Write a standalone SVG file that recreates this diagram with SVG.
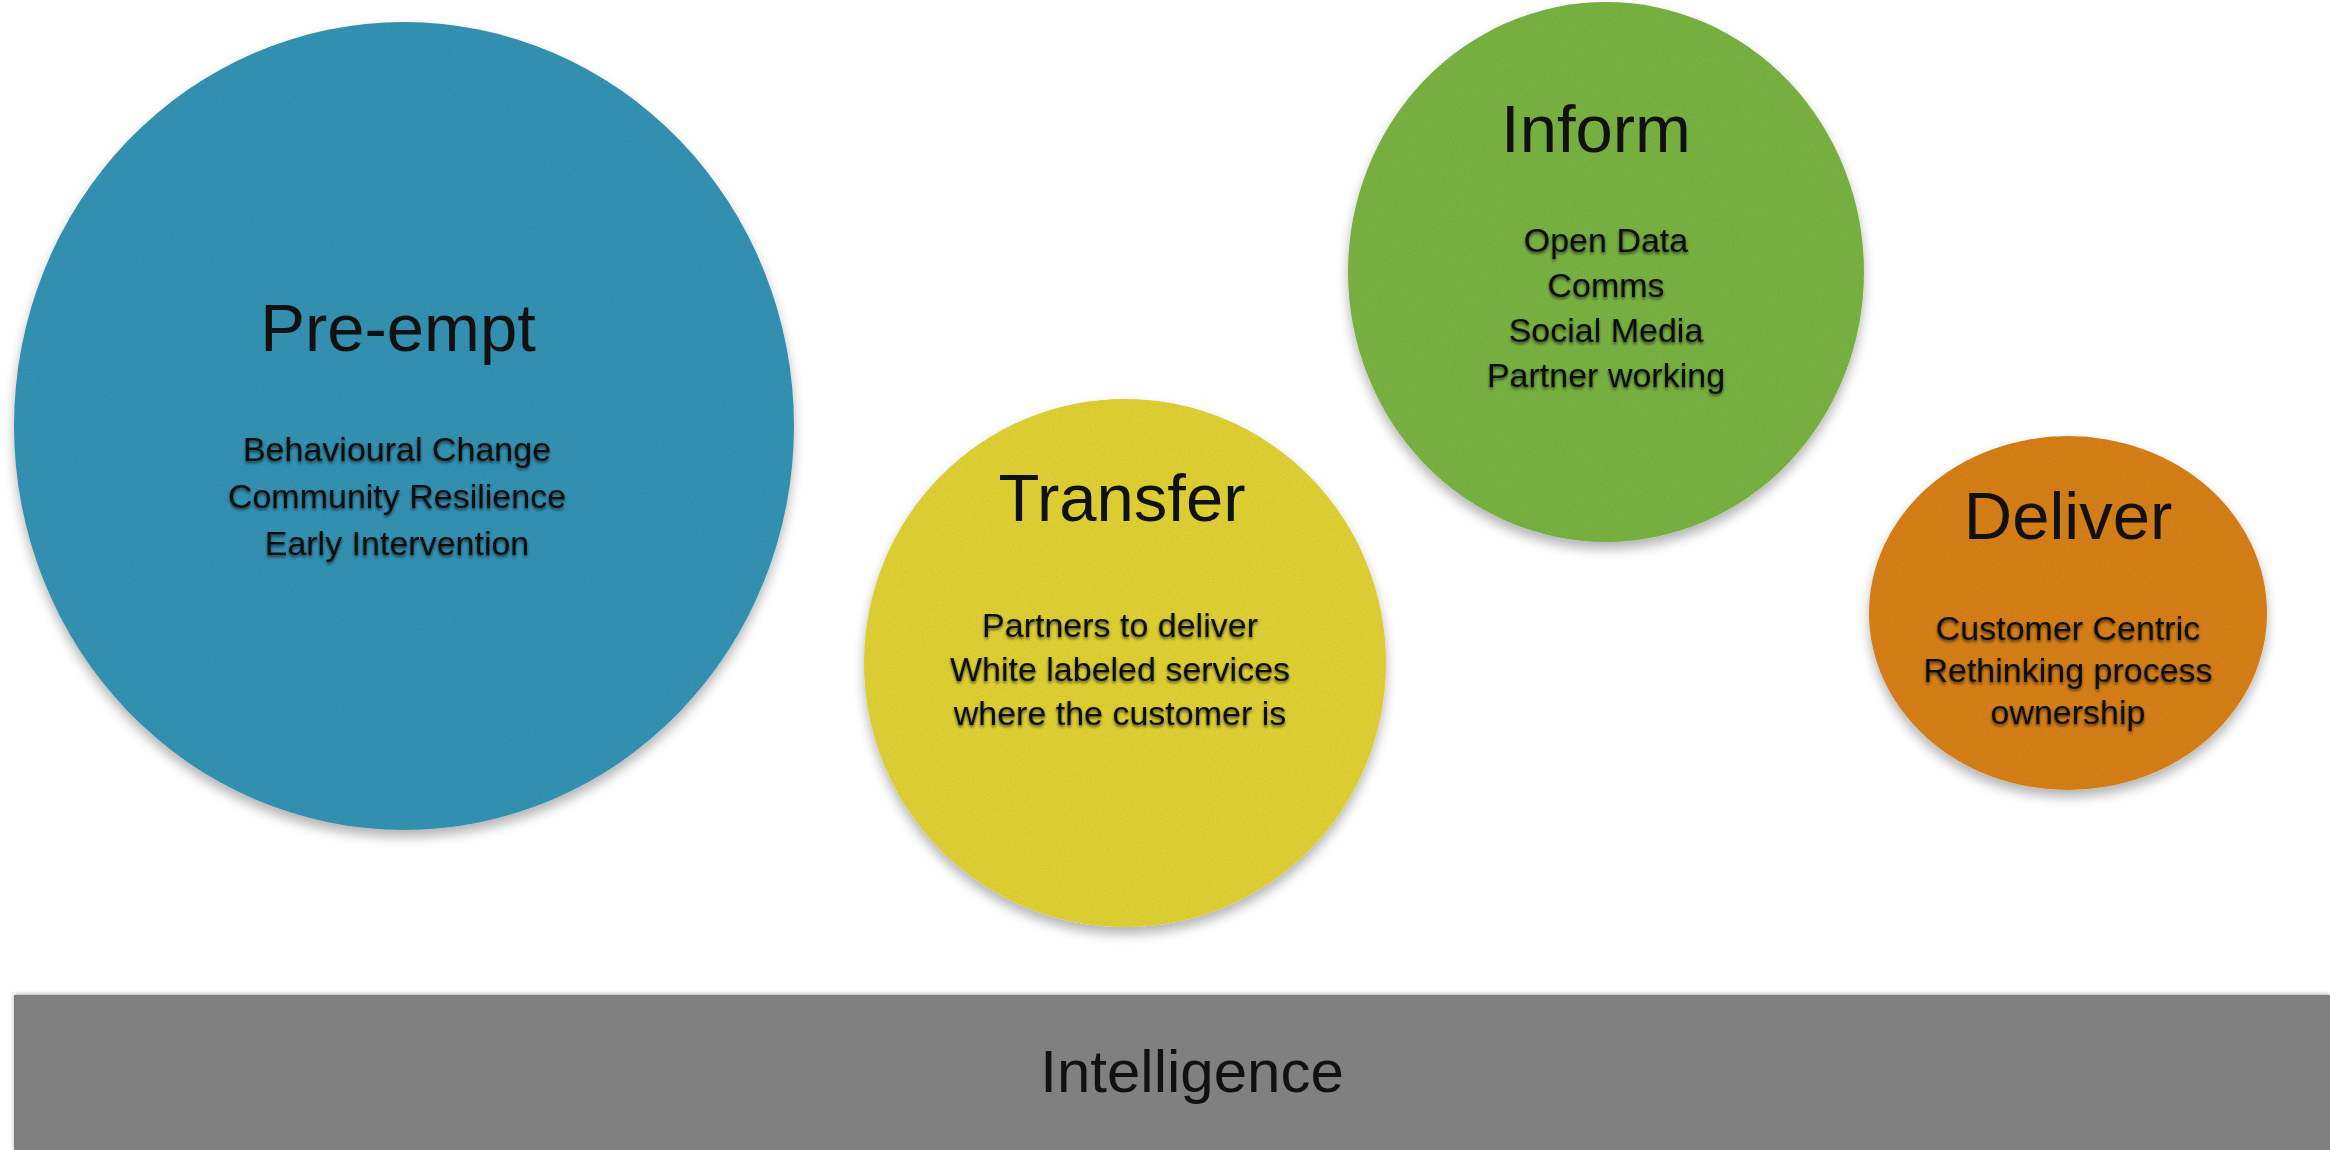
<svg xmlns="http://www.w3.org/2000/svg" width="2330" height="1150" viewBox="0 0 2330 1150">
  <defs>
    <filter id="tex" x="-10%" y="-10%" width="120%" height="125%">
      <feTurbulence type="fractalNoise" baseFrequency="0.85" numOctaves="2" seed="3" result="noise"/>
      <feColorMatrix in="noise" type="matrix" values="0 0 0 0 0  0 0 0 0 0  0 0 0 0 0  0.22 0 0 0 -0.06" result="dark"/>
      <feComposite in="dark" in2="SourceGraphic" operator="in" result="grain"/>
      <feGaussianBlur in="SourceAlpha" stdDeviation="6" result="blur"/>
      <feOffset in="blur" dy="7" result="off"/>
      <feComponentTransfer in="off" result="shadow"><feFuncA type="linear" slope="0.3"/></feComponentTransfer>
      <feMerge><feMergeNode in="shadow"/><feMergeNode in="SourceGraphic"/><feMergeNode in="grain"/></feMerge>
    </filter>
    <filter id="ts" x="-5%" y="-20%" width="110%" height="150%">
      <feGaussianBlur in="SourceAlpha" stdDeviation="1.6"/>
      <feOffset dy="2" result="o"/>
      <feComponentTransfer in="o" result="s"><feFuncA type="linear" slope="0.6"/></feComponentTransfer>
      <feMerge><feMergeNode in="s"/><feMergeNode in="SourceGraphic"/></feMerge>
    </filter>
    <filter id="barsh" x="-2%" y="-20%" width="104%" height="140%">
      <feGaussianBlur in="SourceAlpha" stdDeviation="2"/>
      <feOffset dy="-1" result="o"/>
      <feComponentTransfer in="o" result="s"><feFuncA type="linear" slope="0.3"/></feComponentTransfer>
      <feMerge><feMergeNode in="s"/><feMergeNode in="SourceGraphic"/></feMerge>
    </filter>
  </defs>
  <style>
    text { font-family: "Liberation Sans", Arial, Helvetica, sans-serif; text-anchor: middle; fill: #111; }
    .title { font-size: 67px; }
    .sub { font-size: 34px; filter: url(#ts); }
    .bub { filter: url(#tex); }
  </style>
  <rect width="2330" height="1150" fill="#ffffff"/>

  <g id="connectors"/>

  <g id="node-preempt">
    <ellipse class="bub" cx="404" cy="426" rx="390" ry="404" fill="#3693b3"/>
    <text class="title" x="398" y="351">Pre-empt</text>
    <text class="sub" x="397" y="461">Behavioural Change</text>
    <text class="sub" x="397" y="508">Community Resilience</text>
    <text class="sub" x="397" y="555">Early Intervention</text>
  </g>

  <g id="node-transfer">
    <ellipse class="bub" cx="1125" cy="663" rx="261" ry="264" fill="#e0d136"/>
    <text class="title" x="1122" y="521">Transfer</text>
    <text class="sub" x="1120" y="637">Partners to deliver</text>
    <text class="sub" x="1120" y="681">White labeled services</text>
    <text class="sub" x="1120" y="725">where the customer is</text>
  </g>

  <g id="node-inform">
    <ellipse class="bub" cx="1606" cy="272" rx="258" ry="270" fill="#79b343"/>
    <text class="title" x="1596" y="152">Inform</text>
    <text class="sub" x="1606" y="252">Open Data</text>
    <text class="sub" x="1606" y="297">Comms</text>
    <text class="sub" x="1606" y="342">Social Media</text>
    <text class="sub" x="1606" y="387">Partner working</text>
  </g>

  <g id="node-deliver">
    <ellipse class="bub" cx="2068" cy="613" rx="199" ry="177" fill="#d7801b"/>
    <text class="title" x="2068" y="539">Deliver</text>
    <text class="sub" x="2068" y="640">Customer Centric</text>
    <text class="sub" x="2068" y="682">Rethinking process</text>
    <text class="sub" x="2068" y="724">ownership</text>
  </g>

  <g id="node-intelligence">
    <rect x="14" y="995" width="2316" height="155" fill="#808080" filter="url(#barsh)"/>
    <text x="1192" y="1092" style="font-size:60px">Intelligence</text>
  </g>
</svg>
